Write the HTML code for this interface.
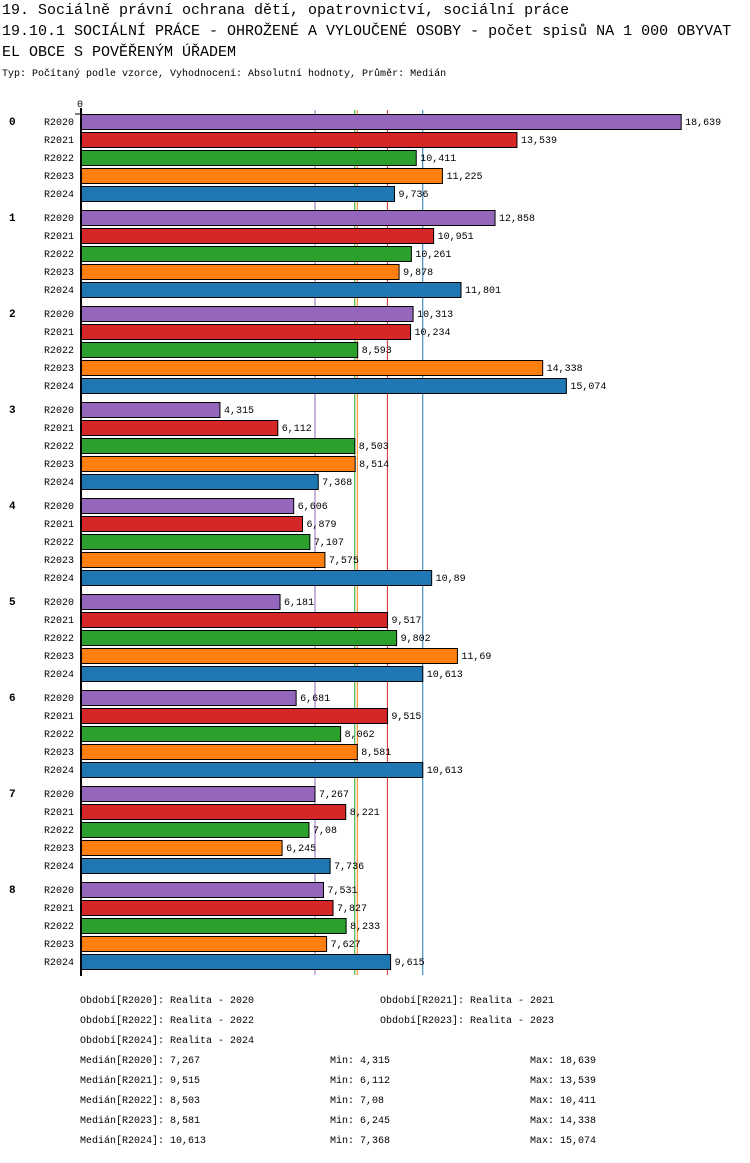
<!DOCTYPE html>
<html><head><meta charset="utf-8"><style>
body{margin:0;background:#fff;font-family:"Liberation Mono",monospace;}
svg text{font-family:"Liberation Mono",monospace;}
</style></head><body>
<svg width="750" height="1158" xmlns="http://www.w3.org/2000/svg">
<text x="2" y="14" font-size="15">19. Sociálně právní ochrana dětí, opatrovnictví, sociální práce</text>
<text x="2" y="35" font-size="15">19.10.1 SOCIÁLNÍ PRÁCE - OHROŽENÉ A VYLOUČENÉ OSOBY - počet spisů NA 1 000 OBYVAT</text>
<text x="2" y="56" font-size="15">EL OBCE S POVĚŘENÝM ÚŘADEM</text>
<text x="2" y="76" font-size="10">Typ: Počítaný podle vzorce, Vyhodnocení: Absolutní hodnoty, Průměr: Medián</text>
<text x="77" y="107" font-size="10">0</text>
<g id="plot"></g>
<g id="legend"></g>
</svg>
<script>
const groups=["0","1","2","3","4","5","6","7","8"];
const series=["R2020","R2021","R2022","R2023","R2024"];
const colors=["#9467bd","#d62728","#2ca02c","#ff7f0e","#1f77b4"];
const v2020=[18639,12858,10313,4315,6606,6181,6681,7267,7531];
const v2021=[13539,10951,10234,6112,6879,9517,9515,8221,7827];
const v2022=[10411,10261,8593,8503,7107,9802,8062,7080,8233];
const v2023=[11225,9878,14338,8514,7575,11690,8581,6245,7627];
const v2024=[9736,11801,15074,7368,10890,10613,10613,7736,9615];
const labels2020=["18,639","12,858","10,313","4,315","6,606","6,181","6,681","7,267","7,531"];
const labels2021=["13,539","10,951","10,234","6,112","6,879","9,517","9,515","8,221","7,827"];
const labels2022=["10,411","10,261","8,593","8,503","7,107","9,802","8,062","7,08","8,233"];
const labels2023=["11,225","9,878","14,338","8,514","7,575","11,69","8,581","6,245","7,627"];
const labels2024=["9,736","11,801","15,074","7,368","10,89","10,613","10,613","7,736","9,615"];
const medians=[7267,9515,8503,8581,10613];
const mins=["4,315","6,112","7,08","6,245","7,368"];
const maxs=["18,639","13,539","10,411","14,338","15,074"];
const medLabels=["7,267","9,515","8,503","8,581","10,613"];
const legendNames=["Realita - 2020","Realita - 2021","Realita - 2022","Realita - 2023","Realita - 2024"];
const values=[v2020,v2021,v2022,v2023,v2024];
const vlabels=[labels2020,labels2021,labels2022,labels2023,labels2024];
const NS="http://www.w3.org/2000/svg";
const x0=81,k=0.0322;
const xs=v=>x0+v*k;
const yTop=(g,s)=>114+g*96+s*18;
const plot=document.getElementById('plot');
function mk(tag,attrs,parent){const e=document.createElementNS(NS,tag);for(const a in attrs)e.setAttribute(a,attrs[a]);parent.appendChild(e);return e;}
medians.forEach((m,i)=>{
  const l=mk('line',{x1:xs(m),x2:xs(m),y1:110,y2:975,stroke:colors[i],'stroke-width':1},plot);
  
  
});
groups.forEach((g,gi)=>{
  const t=mk('text',{x:9,y:yTop(gi,0)+11,'font-size':11,'font-weight':'bold'},plot);t.textContent=g;
  
  
  series.forEach((s,si)=>{
    const y=yTop(gi,si);
    const lt=mk('text',{x:74,y:y+11,'font-size':10,'text-anchor':'end'},plot);lt.textContent=s;
    
    
    const v=values[si][gi];
    const r=mk('rect',{x:x0,y:y+0.5,width:xs(v)-x0,height:15,fill:colors[si],stroke:'#000','stroke-width':1},plot);
    
    
    const vt=mk('text',{x:xs(v)+4,y:y+11,'font-size':10},plot);vt.textContent=vlabels[si][gi];
    
    
  });
});
const ax=mk('line',{x1:x0,x2:x0,y1:108,y2:976,stroke:'#000','stroke-width':2},plot);


const tk=mk('line',{x1:75,x2:x0,y1:114,y2:114,stroke:'#000','stroke-width':1},plot);


const lg=document.getElementById('legend');
const legPos=[[80,1003],[380,1003],[80,1023],[380,1023],[80,1043]];
series.forEach((s,i)=>{
  const t=mk('text',{x:legPos[i][0],y:legPos[i][1],'font-size':10},lg);
  t.textContent='Období['+s+']: '+legendNames[i];
  
  
  const y=1063+i*20;
  const a=mk('text',{x:80,y:y,'font-size':10},lg);a.textContent='Medián['+s+']: '+medLabels[i];
  
  
  const b=mk('text',{x:330,y:y,'font-size':10},lg);b.textContent='Min: '+mins[i];
  
  
  const c=mk('text',{x:530,y:y,'font-size':10},lg);c.textContent='Max: '+maxs[i];
  
  
});
</script>
</body></html>
